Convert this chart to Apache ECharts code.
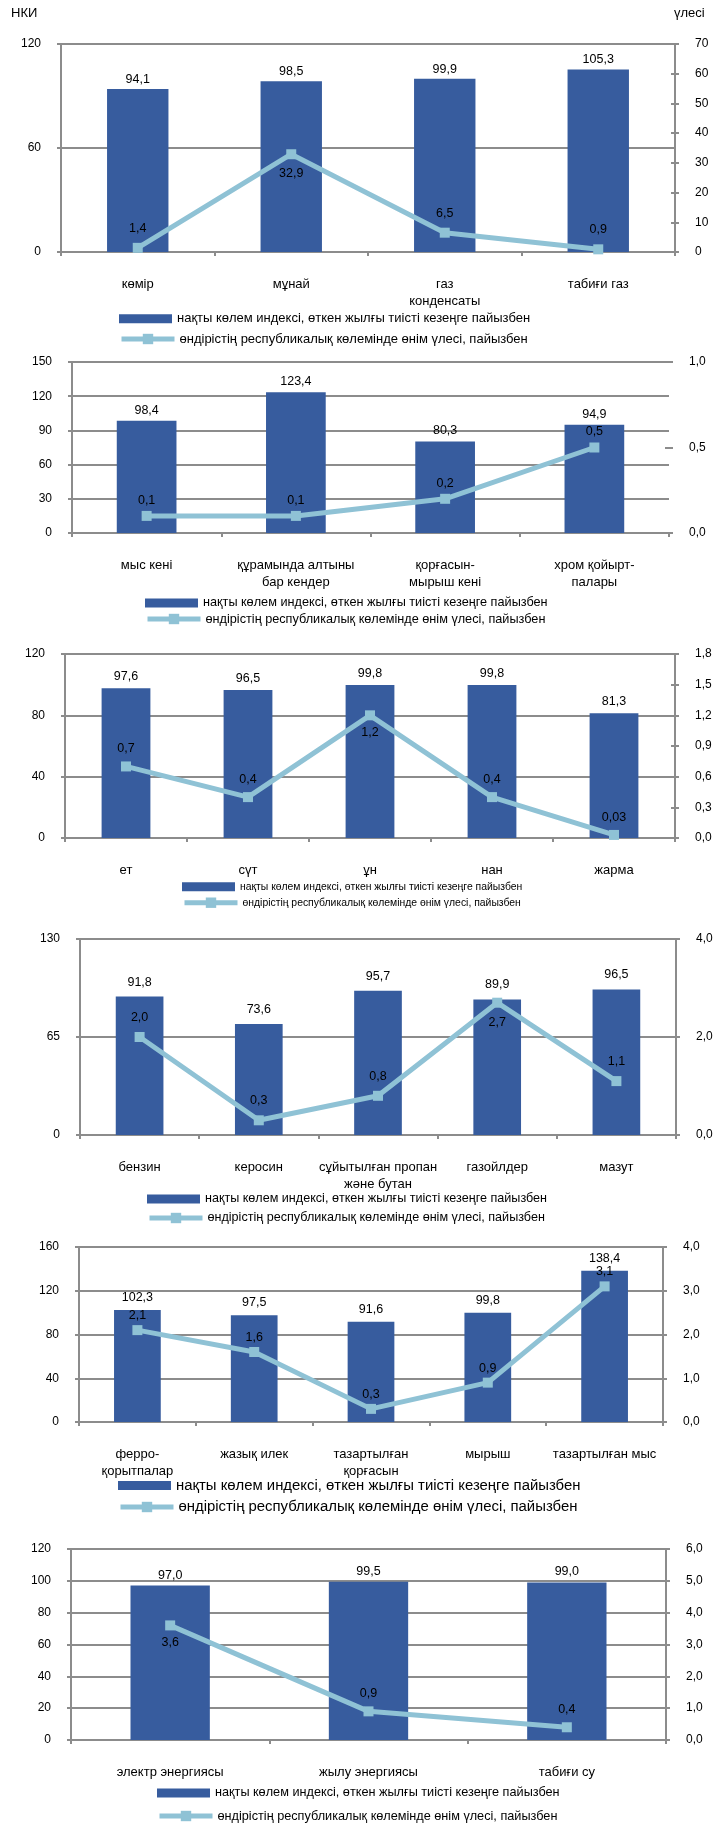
<!DOCTYPE html>
<html><head><meta charset="utf-8">
<script src="https://cdn.jsdelivr.net/npm/echarts@6/dist/echarts.min.js"></script>
<style>html,body{margin:0;padding:0;background:#fff}#c{width:724px;height:1823px}</style>
</head><body><div id="c"></div>
<script>
// ---------- DATA ----------
const BAR_NAME = 'нақты көлем индексі, өткен жылғы тиісті кезеңге пайызбен';
const LINE_NAME = 'өндірістің республикалық көлемінде өнім үлесі, пайызбен';

const cats1 = ['көмір', 'мұнай', 'газ\nконденсаты', 'табиғи газ'];
const bars1 = [94.1, 98.5, 99.9, 105.3];
const share1 = [1.4, 32.9, 6.5, 0.9];

const cats2 = ['мыс кені', 'құрамында алтыны\nбар кендер', 'қорғасын-\nмырыш кені', 'хром қойырт-\nпалары'];
const bars2 = [98.4, 123.4, 80.3, 94.9];
const share2 = [0.1, 0.1, 0.2, 0.5];

const cats3 = ['ет', 'сүт', 'ұн', 'нан', 'жарма'];
const bars3 = [97.6, 96.5, 99.8, 99.8, 81.3];
const share3 = [0.7, 0.4, 1.2, 0.4, 0.03];

const cats4 = ['бензин', 'керосин', 'сұйытылған пропан\nжәне бутан', 'газойлдер', 'мазут'];
const bars4 = [91.8, 73.6, 95.7, 89.9, 96.5];
const share4 = [2.0, 0.3, 0.8, 2.7, 1.1];

const cats5 = ['ферро-\nқорытпалар', 'жазық илек', 'тазартылған\nқорғасын', 'мырыш', 'тазартылған мыс'];
const bars5 = [102.3, 97.5, 91.6, 99.8, 138.4];
const share5 = [2.1, 1.6, 0.3, 0.9, 3.1];

const cats6 = ['электр энергиясы', 'жылу энергиясы', 'табиғи су'];
const bars6 = [97.0, 99.5, 99.0];
const share6 = [3.6, 0.9, 0.4];

// axis scales: [max, interval]
const leftAxis1 = [120, 60],  rightAxis1 = [70, 10];
const leftAxis2 = [150, 30],  rightAxis2 = [1.0, 0.5];
const leftAxis3 = [120, 40],  rightAxis3 = [1.8, 0.3];
const leftAxis4 = [130, 65],  rightAxis4 = [4.0, 2.0];
const leftAxis5 = [160, 40],  rightAxis5 = [4.0, 1.0];
const leftAxis6 = [120, 20],  rightAxis6 = [6.0, 1.0];

// ---------- LAYOUT / STYLE ----------
const FONT = "'Liberation Sans', Arial, sans-serif";
const BAR_COLOR = '#375C9E';
const LINE_COLOR = '#8FC2D5';
const AXIS_COLOR = '#8C8C8C';

const layouts = [
  {grid: {left: 61, top: 44, width: 614, height: 208}, rDec: 0, rLine: true, barDist: 3, lineDist: 8,
   linePos: ['top', 'bottom', 'top', 'top'], legendLeft: 119, legendRows: [320, 339], legendFont: 13},
  {grid: {left: 72, top: 362, width: 597, height: 171}, rDec: 1, rLine: false, barDist: 4, lineDist: 4,
   linePos: ['top', 'top', 'top', 'top'], legendLeft: 145, legendRows: [604, 619], legendFont: 12.7},
  {grid: {left: 65, top: 654, width: 610, height: 184}, rDec: 1, rLine: true, barDist: 5, lineDist: 6,
   linePos: ['top', 'top', 'bottom', 'top', 'top'], legendLeft: 182, legendRows: [888, 904], legendFont: 10.4},
  {grid: {left: 80, top: 939, width: 596, height: 196}, rDec: 1, rLine: true, barDist: 8, lineDist: 8,
   linePos: ['top', 'top', 'top', 'bottom', 'top'], legendLeft: 147, legendRows: [1200, 1218], legendFont: 12.6},
  {grid: {left: 79, top: 1247, width: 584, height: 175}, rDec: 1, rLine: true, barDist: 6, lineDist: 3,
   linePos: ['top', 'top', 'top', 'top', 'top'], legendLeft: 118, legendRows: [1487, 1506], legendFont: 14.9},
  {grid: {left: 71, top: 1549, width: 595, height: 191}, rDec: 1, rLine: true, barDist: 4, lineDist: 6,
   linePos: ['bottom', 'top', 'top'], legendLeft: 157, legendRows: [1794, 1816], legendFont: 12.7}
];

const datasets = [
  {cats: cats1, bars: bars1, share: share1, la: leftAxis1, ra: rightAxis1},
  {cats: cats2, bars: bars2, share: share2, la: leftAxis2, ra: rightAxis2},
  {cats: cats3, bars: bars3, share: share3, la: leftAxis3, ra: rightAxis3},
  {cats: cats4, bars: bars4, share: share4, la: leftAxis4, ra: rightAxis4},
  {cats: cats5, bars: bars5, share: share5, la: leftAxis5, ra: rightAxis5},
  {cats: cats6, bars: bars6, share: share6, la: leftAxis6, ra: rightAxis6}
];

function fmtVal(v) {
  const s = (Math.round(v * 10) / 10 === v) ? v.toFixed(1) : String(v);
  return s.replace('.', ',');
}
function fmtAxis(v, d) { return Number(v).toFixed(d).replace('.', ','); }

const option = {
  animation: false,
  backgroundColor: '#fff',
  textStyle: {fontFamily: FONT, color: '#000'},
  grid: [], xAxis: [], yAxis: [], series: [], legend: [],
  graphic: [
    {type: 'text', left: 11, top: 7, style: {text: 'НКИ', font: '13px ' + FONT, fill: '#000'}},
    {type: 'text', left: 674, top: 7, style: {text: 'үлесі', font: '13px ' + FONT, fill: '#000'}}
  ]
};

const axisLineStyle = {color: AXIS_COLOR, width: 2};

datasets.forEach((d, i) => {
  const L = layouts[i];
  option.grid.push(Object.assign({containLabel: false}, L.grid));
  option.xAxis.push({
    type: 'category', gridIndex: i, data: d.cats,
    axisLine: {show: true, lineStyle: axisLineStyle},
    axisTick: {show: true, length: 4, lineStyle: axisLineStyle},
    axisLabel: {margin: 24, fontSize: 13, lineHeight: 17, color: '#000', fontFamily: FONT, interval: 0}
  });
  const li = option.yAxis.length;
  option.yAxis.push({
    type: 'value', gridIndex: i, position: 'left', min: 0, max: d.la[0], interval: d.la[1],
    axisLine: {show: true, lineStyle: axisLineStyle},
    axisTick: {show: true, length: 4, lineStyle: axisLineStyle},
    splitLine: {show: true, lineStyle: axisLineStyle},
    axisLabel: {margin: 20, fontSize: 12, color: '#000', fontFamily: FONT}
  });
  const ri = option.yAxis.length;
  option.yAxis.push({
    type: 'value', gridIndex: i, position: 'right', min: 0, max: d.ra[0], interval: d.ra[1],
    axisLine: {show: L.rLine, lineStyle: axisLineStyle},
    axisTick: {show: true, length: 4, lineStyle: axisLineStyle},
    splitLine: {show: false},
    axisLabel: {margin: 20, fontSize: 12, color: '#000', fontFamily: FONT,
      formatter: v => fmtAxis(v, L.rDec)}
  });
  option.yAxis.push({
    type: 'value', gridIndex: i, position: 'right', min: 0, max: d.ra[0], interval: d.ra[1],
    axisLine: {show: false},
    axisTick: {show: true, inside: true, length: 4, lineStyle: axisLineStyle},
    splitLine: {show: false}, axisLabel: {show: false}
  });
  option.series.push({
    type: 'bar', name: BAR_NAME, xAxisIndex: i, yAxisIndex: li, data: d.bars,
    barWidth: '40%', itemStyle: {color: BAR_COLOR},
    label: {show: true, position: 'top', distance: L.barDist, fontSize: 12.5, color: '#000', fontFamily: FONT,
      formatter: p => fmtVal(p.value)}
  });
  option.series.push({
    type: 'line', name: LINE_NAME, xAxisIndex: i, yAxisIndex: ri,
    data: d.share.map((v, k) => ({value: v, label: {position: L.linePos[k]}})),
    symbol: 'rect', symbolSize: 10, z: 5,
    itemStyle: {color: LINE_COLOR}, lineStyle: {color: LINE_COLOR, width: 5},
    label: {show: true, distance: L.lineDist, fontSize: 12.5, color: '#000', fontFamily: FONT,
      formatter: p => fmtVal(p.value)}
  });
  const fs = L.legendFont;
  option.legend.push({
    data: [BAR_NAME], left: L.legendLeft, top: L.legendRows[0] - fs * 0.6, padding: 0,
    itemWidth: 53, itemHeight: 9, icon: 'rect', selectedMode: false,
    textStyle: {fontSize: fs, color: '#000', fontFamily: FONT}
  });
  option.legend.push({
    data: [LINE_NAME], left: L.legendLeft, top: L.legendRows[1] - 6.5, padding: 0,
    itemWidth: 53, itemHeight: 13, selectedMode: false,
    lineStyle: {width: 5, color: LINE_COLOR},
    textStyle: {fontSize: fs, color: '#000', fontFamily: FONT}
  });
});

const chart = echarts.init(document.getElementById('c'), null, {renderer: 'canvas'});
chart.setOption(option);
</script>
</body></html>
